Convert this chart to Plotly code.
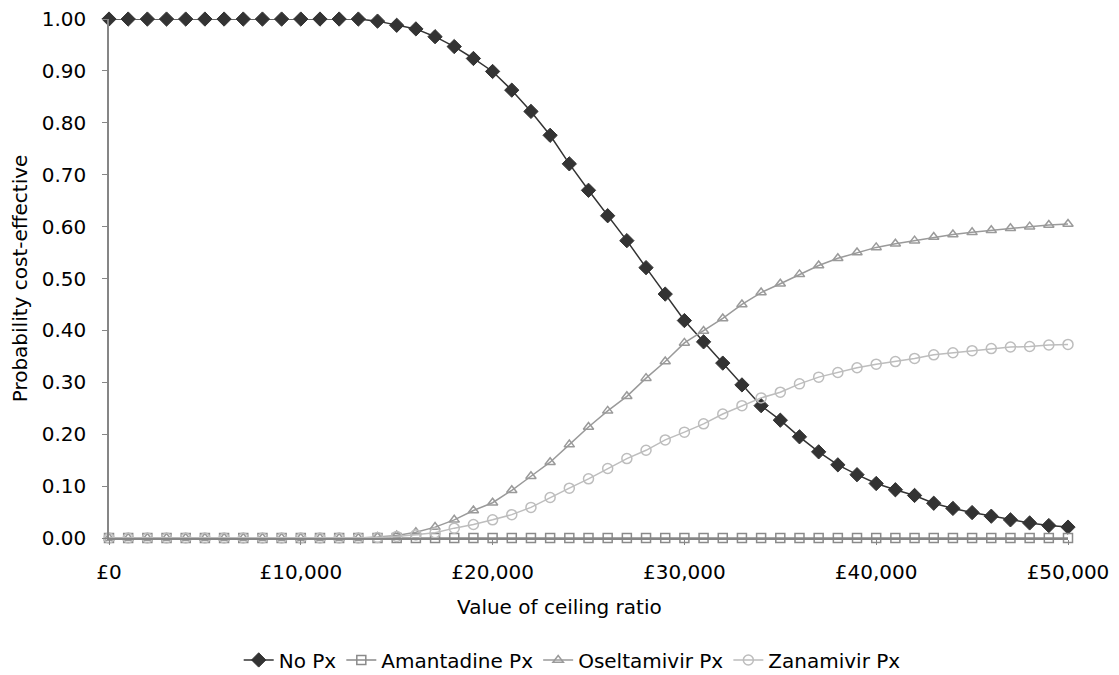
import plotly.graph_objects as go

ceiling = list(range(0, 50001, 1000))

no_px = [1.00] * 14 + [
    0.996, 0.988, 0.981, 0.966, 0.947, 0.924, 0.899, 0.863, 0.822, 0.776,
    0.721, 0.670, 0.621, 0.573, 0.521, 0.470, 0.419, 0.378, 0.337, 0.295,
    0.255, 0.227, 0.195, 0.166, 0.141, 0.122, 0.105, 0.093, 0.082, 0.067,
    0.057, 0.049, 0.042, 0.035, 0.029, 0.024, 0.021]

amantadine_px = [0.0] * 51

oseltamivir_px = [0.0] * 14 + [
    0.002, 0.005, 0.011, 0.021, 0.035, 0.053, 0.068, 0.092, 0.119, 0.146,
    0.180, 0.214, 0.245, 0.273, 0.308, 0.340, 0.376, 0.399, 0.423, 0.450,
    0.473, 0.490, 0.508, 0.525, 0.539, 0.550, 0.560, 0.567, 0.573, 0.580,
    0.585, 0.589, 0.593, 0.597, 0.600, 0.603, 0.605]

zanamivir_px = [0.0] * 14 + [
    0.001, 0.003, 0.006, 0.010, 0.019, 0.026, 0.035, 0.045, 0.059, 0.078,
    0.096, 0.114, 0.134, 0.153, 0.169, 0.189, 0.204, 0.220, 0.239, 0.255,
    0.270, 0.281, 0.297, 0.310, 0.319, 0.328, 0.335, 0.340, 0.346, 0.353,
    0.357, 0.361, 0.365, 0.368, 0.369, 0.372, 0.373]

series_names = ["No Px", "Amantadine Px", "Oseltamivir Px", "Zanamivir Px"]

x_tick_values = [0, 10000, 20000, 30000, 40000, 50000]
x_tick_labels = ["\u00a3" + f"{v:,}" for v in x_tick_values]
y_tick_values = [i / 10 for i in range(11)]
y_tick_labels = [f"{v:.2f}" for v in y_tick_values]

x_title = "Value of ceiling ratio"
y_title = "Probability cost-effective"

FONT = "DejaVu Sans, Liberation Sans, Arial, sans-serif"
FS = 20

fig = go.Figure()

styles = [
    (no_px, "#333333", dict(symbol="diamond", size=11, color="#333333",
                            line=dict(color="#333333", width=1))),
    (amantadine_px, "#8a8a8a", dict(symbol="square-open", size=9, color="#8a8a8a",
                                    line=dict(color="#8a8a8a", width=1.5))),
    (oseltamivir_px, "#9a9a9a", dict(symbol="triangle-up-open", size=9, color="#9a9a9a",
                                     line=dict(color="#9a9a9a", width=1.5))),
    (zanamivir_px, "#bdbdbd", dict(symbol="circle-open", size=10, color="#bdbdbd",
                                   line=dict(color="#bdbdbd", width=1.5))),
]

for name, (vals, col, mk) in zip(series_names, styles):
    fig.add_trace(go.Scatter(
        x=ceiling, y=vals, name=name, mode="lines+markers",
        line=dict(color=col, width=1.5), marker=mk, cliponaxis=False))

# The page body has an 8px margin, so the figure is sized to fit inside the window.
fig.update_layout(
    width=1111, height=667,
    margin=dict(l=101, r=51, t=11, b=137, autoexpand=False),
    paper_bgcolor="white", plot_bgcolor="white",
    font=dict(family=FONT, size=FS, color="#000000"),
    showlegend=True,
    legend=dict(orientation="h", x=0.483, xanchor="center", y=-0.235, yanchor="middle",
                font=dict(family=FONT, size=FS, color="#000000"),
                itemwidth=30, tracegroupgap=0),
    xaxis=dict(range=[0, 50000], tickvals=x_tick_values, ticktext=x_tick_labels,
               showgrid=False, zeroline=False, automargin=False,
               showline=True, linecolor="#868686", linewidth=1.5,
               ticks="outside", ticklen=5, tickcolor="#868686",
               ticklabelstandoff=10, ticklabeloverflow="allow"),
    yaxis=dict(range=[0, 1.0001], tickvals=y_tick_values, ticktext=y_tick_labels,
               showgrid=False, zeroline=False, automargin=False,
               showline=True, linecolor="#868686", linewidth=1.5,
               ticks="outside", ticklen=5, tickcolor="#868686",
               ticklabelstandoff=12, ticklabeloverflow="allow"),
    annotations=[
        dict(text=x_title, xref="paper", yref="paper", x=0.470, y=-0.132,
             xanchor="center", yanchor="middle", showarrow=False,
             font=dict(family=FONT, size=FS, color="#000000")),
        dict(text=y_title, xref="paper", yref="paper", x=-0.093, y=0.5,
             xanchor="center", yanchor="middle", showarrow=False, textangle=-90,
             font=dict(family=FONT, size=FS, color="#000000")),
    ],
)

fig.write_html("out.html")
